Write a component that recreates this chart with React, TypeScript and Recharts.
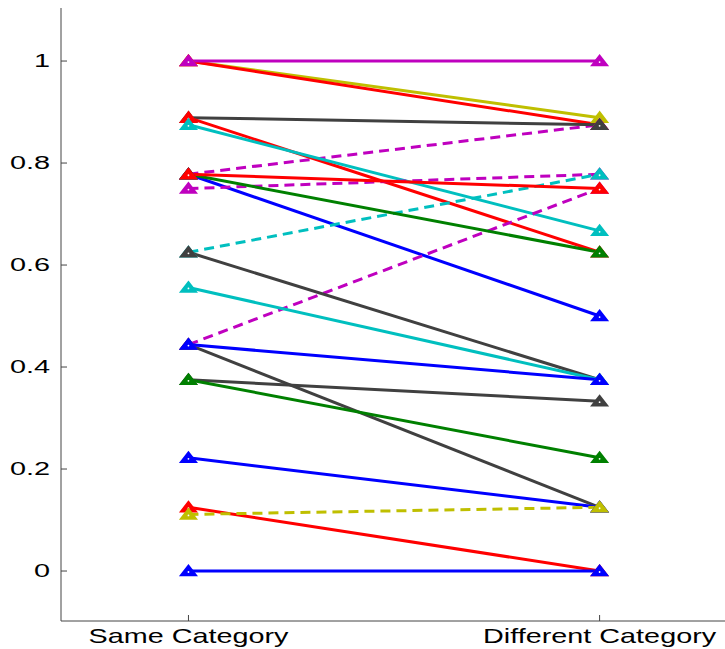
import React from "react";
import { LineChart, Line, XAxis, YAxis } from "recharts";

const categories = ["Same Category", "Different Category"];
const yTicks = [0, 0.2, 0.4, 0.6, 0.8, 1];

// one entry per subject line, in drawing order
const sameValues = [1, 1, 1, 0.778, 0.889, 0.889, 0.875, 0.778, 0.75, 0.625, 0.444, 0.778, 0.778, 0.625, 0.556, 0.444, 0.375, 0.375, 0.444, 0.222, 0.125, 0, 0.111];
const diffValues = [0.889, 0.875, 1, 0.875, 0.875, 0.625, 0.667, 0.5, 0.778, 0.778, 0.75, 0.625, 0.75, 0.375, 0.375, 0.125, 0.333, 0.222, 0.375, 0.125, 0, 0, 0.125];
const lineColors = ["#bfbf00", "#ff0000", "#bf00bf", "#bf00bf", "#404040", "#ff0000", "#00bfbf", "#0000ff", "#bf00bf", "#00bfbf", "#bf00bf", "#008000", "#ff0000", "#404040", "#00bfbf", "#404040", "#404040", "#008000", "#0000ff", "#0000ff", "#ff0000", "#0000ff", "#bfbf00"];
const dashedLines = [false, false, false, true, false, false, false, false, true, true, true, false, false, false, false, false, false, false, false, false, false, false, true];

const Triangle = (props: any) => {
  const { cx, cy, stroke, index } = props;
  if (cx == null || cy == null) return <g key={index} />;
  return (
    <g key={index}>
      <polygon
        points={`${cx},${cy - 5} ${cx - 7},${cy + 4} ${cx + 7},${cy + 4}`}
        fill={stroke}
        stroke={stroke}
        strokeWidth={2.5}
        strokeLinejoin="miter"
      />
      <circle cx={cx} cy={cy + 1} r={0.9} fill="#fff" />
    </g>
  );
};

const XTick = (props: any) => {
  const { x, y, payload } = props;
  return (
    <g>
      <line x1={x} y1={y} x2={x} y2={y - 6} stroke="#444" />
      <text
        transform={`translate(${x},${y + 22}) scale(1.44,1)`}
        textAnchor="middle"
        fontSize={20}
        fontFamily="Liberation Sans, Arial, sans-serif"
        fill="#000"
      >
        {categories[payload.value - 1]}
      </text>
    </g>
  );
};

const YTick = (props: any) => {
  const { x, y, payload } = props;
  return (
    <g>
      <line x1={x + 11} y1={y} x2={x + 17} y2={y} stroke="#444" />
      <text
        transform={`translate(${x},${y}) scale(1.65,1)`}
        textAnchor="end"
        dominantBaseline="central"
        fontSize={17.5}
        fontFamily="Liberation Sans, Arial, sans-serif"
        fill="#000"
      >
        {payload.value}
      </text>
    </g>
  );
};

export default function App() {
  return (
    <div style={{ position: "fixed", left: 0, top: 0, width: 725, height: 649, background: "#fff" }}>
      <LineChart width={725} height={649} margin={{ top: 8, right: 0, left: 0, bottom: 0 }}>
        <XAxis
          type="number"
          dataKey="x"
          domain={[0.69, 2.305]}
          ticks={[1, 2]}
          allowDataOverflow
          height={28}
          tickSize={0}
          tickMargin={0}
          tick={<XTick />}
          axisLine={{ stroke: "#444" }}
          tickLine={false}
        />
        <YAxis
          type="number"
          domain={[-0.098, 1.104]}
          ticks={yTicks}
          allowDataOverflow
          width={61}
          tickSize={0}
          tickMargin={11}
          tick={<YTick />}
          axisLine={{ stroke: "#444" }}
          tickLine={false}
        />
        {sameValues.map((s, i) => (
          <Line
            key={i}
            data={[
              { x: 1, y: s },
              { x: 2, y: diffValues[i] },
            ]}
            dataKey="y"
            type="linear"
            stroke={lineColors[i]}
            strokeWidth={3}
            strokeDasharray={dashedLines[i] ? "10 6" : undefined}
            dot={<Triangle />}
            activeDot={false}
            isAnimationActive={false}
          />
        ))}
      </LineChart>
    </div>
  );
}
